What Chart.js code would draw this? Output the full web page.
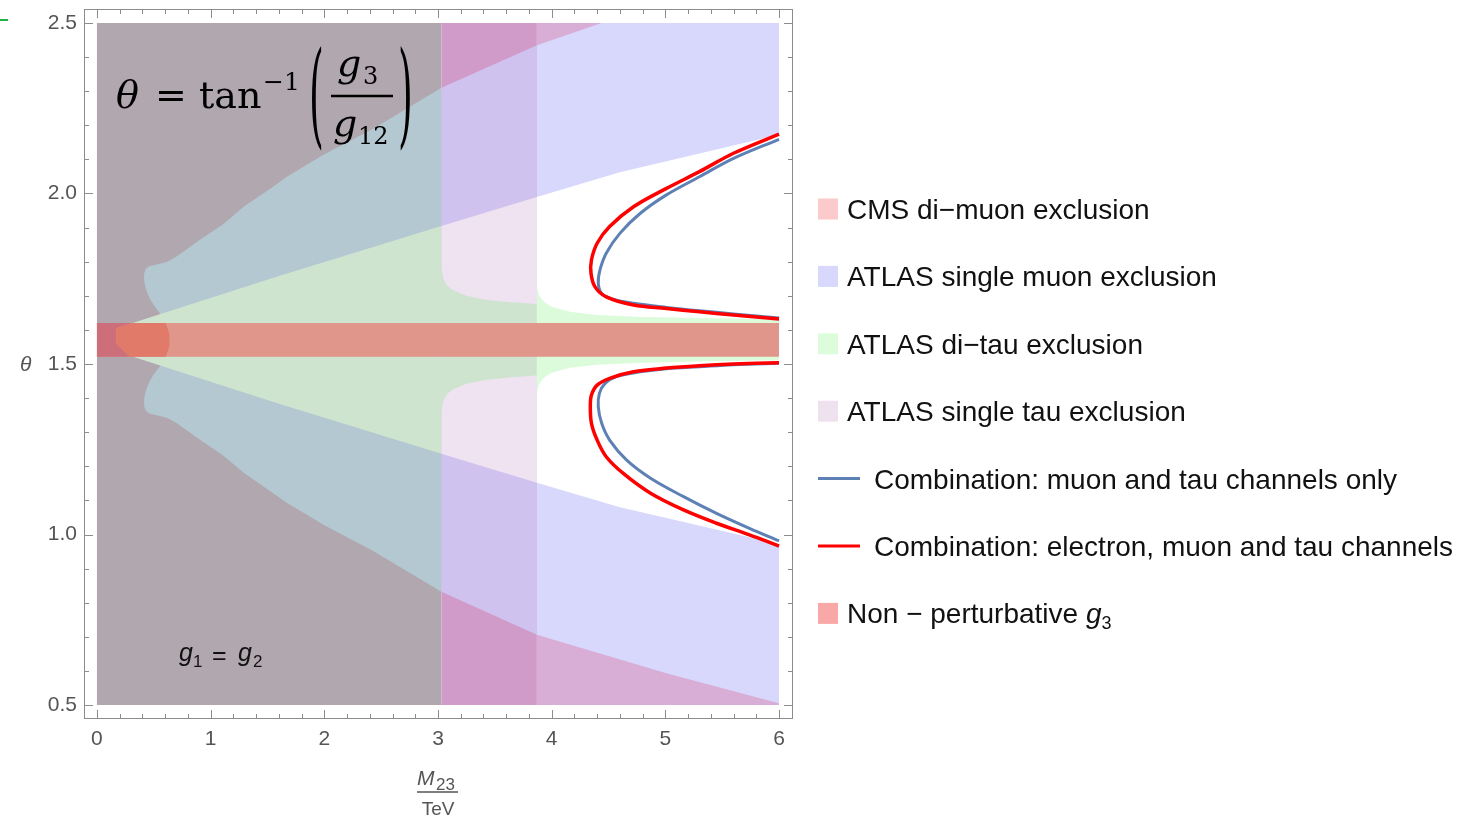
<!DOCTYPE html>
<html>
<head>
<meta charset="utf-8">
<script src="https://cdn.jsdelivr.net/npm/chart.js"></script>
<style>
  body { margin: 0; background: #fff; }
  #wrap { position: relative; width: 1463px; height: 820px; }
  #chart, #over { position: absolute; left: 0; top: 0; }
  #over { pointer-events: none; }
</style>
</head>
<body>
<div id="wrap">
  <canvas id="chart" width="1463" height="820"></canvas>
  <svg id="over" width="1463" height="820" xmlns="http://www.w3.org/2000/svg">
    <line x1="0" y1="20" x2="8" y2="20" stroke="#1fb24a" stroke-width="2"/>
    <!-- formula -->
    <g font-family="DejaVu Serif" fill="#000">
      <text x="116" y="108" font-size="38" font-style="italic">θ</text>
      <text x="155" y="108" font-size="38">=</text>
      <text x="199" y="108" font-size="38">tan</text>
      <text x="263" y="90" font-size="25">−1</text>
      <text x="309" y="44.4" font-size="38" transform="scale(1 3)">(</text>
      <text x="337" y="76" font-size="38" font-style="italic">g</text>
      <text x="363" y="84" font-size="24">3</text>
      <line x1="331" y1="96" x2="393" y2="96" stroke="#000" stroke-width="2.4"/>
      <text x="333" y="136" font-size="38" font-style="italic">g</text>
      <text x="358" y="144" font-size="24">12</text>
      <text x="398" y="44.4" font-size="38" transform="scale(1 3)">)</text>
    </g>
    <!-- g1 = g2 -->
    <g font-family="Liberation Sans, Arial, sans-serif" fill="#111">
      <text x="179" y="661" font-size="25" font-style="italic">g</text>
      <text x="193" y="667" font-size="17">1</text>
      <text x="212" y="664" font-size="25">=</text>
      <text x="238" y="661" font-size="25" font-style="italic">g</text>
      <text x="253" y="667" font-size="17">2</text>
    </g>
    <!-- axis titles -->
    <g font-family="Liberation Sans, Arial, sans-serif" fill="#555">
      <text x="20" y="371" font-size="21" font-style="italic">θ</text>
      <text x="417" y="785" font-size="21" font-style="italic">M</text>
      <text x="436" y="790" font-size="17">23</text>
      <line x1="417" y1="792" x2="458" y2="792" stroke="#555" stroke-width="1.3"/>
      <text x="438" y="815" font-size="19" text-anchor="middle">TeV</text>
    </g>
    <g id="legend" font-family="Liberation Sans, Arial, sans-serif" font-size="28" fill="#111"></g>
  </svg>
</div>
<script>
// axis ticks
const xTicks = [0, 1, 2, 3, 4, 5, 6]
const yTicks = [0.5, 1.0, 1.5, 2.0, 2.5]

// M23 edges of the CMS di-muon and single tau limits, theta range, non-perturbative band
const xZones = [0, 3.03, 3.87, 6]
const thetaRange = [0.5, 2.5]
const nonPertBand = [1.521, 1.62]

// ATLAS single muon band: outer edges (start at the low-mass lobe)
const muonUpper = [[0.64, 1.571], [0.635, 1.59], [0.62, 1.607], [0.59, 1.627], [0.55, 1.65], [0.50, 1.672],
  [0.46, 1.695], [0.43, 1.72], [0.415, 1.745], [0.415, 1.765], [0.43, 1.779], [0.46, 1.787], [0.525, 1.792],
  [0.62, 1.80], [0.70, 1.815], [0.906, 1.864], [1.11, 1.91], [1.29, 1.961], [1.55, 2.02], [1.67, 2.049],
  [2.0, 2.115], [2.43, 2.19], [3.03, 2.31], [3.87, 2.435], [4.44, 2.5]]
const muonLower = [[0.64, 1.571], [0.635, 1.552], [0.62, 1.535], [0.59, 1.515], [0.55, 1.492], [0.50, 1.47],
  [0.46, 1.447], [0.43, 1.422], [0.415, 1.397], [0.415, 1.377], [0.43, 1.363], [0.46, 1.355], [0.525, 1.35],
  [0.62, 1.342], [0.70, 1.327], [0.906, 1.278], [1.11, 1.232], [1.29, 1.181], [1.55, 1.121], [1.67, 1.093],
  [2.0, 1.027], [2.43, 0.952], [3.03, 0.832], [3.87, 0.706], [5.01, 0.593], [6.0, 0.505]]

// inner wedge (di-tau side of the muon band)
const wedgeUpper = [[0.17, 1.605], [1.58, 1.756], [3.03, 1.905], [3.87, 1.99], [4.6, 2.062], [6.0, 2.172]]
const wedgeLower = [[0.17, 1.56], [0.29, 1.524], [1.58, 1.386], [3.03, 1.237], [3.87, 1.152], [4.6, 1.08], [6.0, 0.972]]

// single tau edge (3.03 - 3.87) and di-tau edge beyond 3.87
const tauUpper = [[3.03, 1.80], [3.035, 1.772], [3.05, 1.748], [3.08, 1.730], [3.13, 1.717], [3.25, 1.70],
  [3.43, 1.688], [3.65, 1.681], [3.87, 1.676]]
const tauLower = [[3.03, 1.341], [3.035, 1.37], [3.05, 1.394], [3.08, 1.412], [3.13, 1.425], [3.25, 1.442],
  [3.43, 1.454], [3.65, 1.461], [3.87, 1.466]]
const ditauUpper = [[3.87, 1.73], [3.88, 1.71], [3.90, 1.695], [3.94, 1.68], [4.0, 1.668], [4.16, 1.653],
  [4.4, 1.644], [4.8, 1.638], [5.4, 1.634], [6.0, 1.631]]
const ditauLower = [[3.87, 1.412], [3.88, 1.432], [3.90, 1.447], [3.94, 1.462], [4.0, 1.474], [4.16, 1.489],
  [4.4, 1.498], [4.8, 1.504], [5.4, 1.508], [6.0, 1.511]]

// low-mass end of the non-perturbative band
const bandDark = [[0, 1.62], [0.31, 1.62], [0.17, 1.605], [0.17, 1.56], [0.29, 1.521], [0, 1.521]]
const bandOrange = [[0.17, 1.605], [0.31, 1.62], [0.605, 1.62], [0.635, 1.59], [0.64, 1.571], [0.635, 1.552],
  [0.605, 1.521], [0.29, 1.521], [0.17, 1.56]]

// combination limits
const redUpper = [[6.0, 2.174], [5.6, 2.118], [5.3, 2.064], [5.01, 2.015], [4.72, 1.961], [4.51, 1.903],
  [4.40, 1.854], [4.35, 1.805], [4.346, 1.766], [4.38, 1.727], [4.48, 1.697], [4.72, 1.673], [5.01, 1.663],
  [5.3, 1.653], [5.6, 1.644], [6.0, 1.632]]
const redLower = [[6.0, 1.504], [5.6, 1.500], [5.3, 1.495], [5.01, 1.488], [4.72, 1.477], [4.51, 1.458],
  [4.40, 1.438], [4.35, 1.409], [4.34, 1.375], [4.35, 1.326], [4.40, 1.277], [4.48, 1.228], [4.63, 1.179],
  [4.87, 1.121], [5.16, 1.072], [5.45, 1.033], [5.74, 0.999], [6.0, 0.966]]
const blueUpper = [[6.0, 2.159], [5.6, 2.103], [5.3, 2.049], [5.01, 1.996], [4.78, 1.942], [4.6, 1.883],
  [4.48, 1.825], [4.425, 1.776], [4.41, 1.737], [4.44, 1.707], [4.54, 1.690], [4.72, 1.678], [5.01, 1.666],
  [5.3, 1.656], [5.6, 1.647], [6.0, 1.635]]
const blueLower = [[6.0, 1.502], [5.6, 1.498], [5.3, 1.492], [5.01, 1.486], [4.78, 1.477], [4.57, 1.463],
  [4.47, 1.443], [4.42, 1.414], [4.41, 1.375], [4.44, 1.326], [4.51, 1.277], [4.66, 1.218], [4.87, 1.165],
  [5.16, 1.111], [5.45, 1.062], [5.74, 1.018], [6.0, 0.981]]

// legend
const legendLabels = ["CMS di−muon exclusion", "ATLAS single muon exclusion", "ATLAS di−tau exclusion",
  "ATLAS single tau exclusion", "Combination: muon and tau channels only",
  "Combination: electron, muon and tau channels", "Non − perturbative "]
const legendKinds = ["box", "box", "box", "box", "line", "line", "box"]
const legendColors = ["#fccaca", "#d8d8fc", "#dcfcdc", "#efe2ef", "#5e81b5", "#ff0000", "#f9a8a8"]

const [z0, z1, z2, z3] = xZones
const [tMin, tMax] = thetaRange

const inZone = (pts, a, b) => pts.filter(([x]) => x >= a - 1e-9 && x <= b + 1e-9)
const strip = (upper, lower, a, b, extra = []) => [...inZone(upper, a, b), ...extra, ...inZone(lower, a, b).reverse()]
const rect = (a, b, lo, hi) => [[a, lo], [b, lo], [b, hi], [a, hi]]

// bottom to top
const layers = [
  { pts: rect(z0, z1, tMin, tMax), color: "#b1a7ae" },
  { pts: rect(z1, z2, tMin, tMax), color: "#d09ac9" },
  { pts: rect(z2, z3, tMin, tMax), color: "#d9aed6" },
  { pts: strip(muonUpper, muonLower, z0, z1), color: "#b3c8d1" },
  { pts: strip(muonUpper, muonLower, z1, z2), color: "#cfc2ee" },
  { pts: strip(muonUpper, muonLower, z2, z3, [[z3, tMax]]), color: "#d8d8fc" },
  { pts: strip(wedgeUpper, wedgeLower, z0, z1), color: "#cfe4cf" },
  { pts: strip(wedgeUpper, wedgeLower, z1, z2), color: "#efe3f1" },
  { pts: strip(wedgeUpper, wedgeLower, z2, z3), color: "#ffffff" },
  { pts: strip(tauUpper, tauLower, z1, z2), color: "#cfe4cf" },
  { pts: strip(ditauUpper, ditauLower, z2, z3), color: "#dbfbdb" },
  { pts: rect(z0, z3, nonPertBand[0], nonPertBand[1]), color: "#e0968a" },
  { pts: bandDark, color: "#cd6e7b" },
  { pts: bandOrange, color: "#e17a69" },
]

const toXY = (pts) => pts.map(([x, y]) => ({ x, y }))

const fills = layers.map((l) => ({
  data: toXY(l.pts),
  fill: "shape",
  backgroundColor: l.color,
  borderColor: "rgba(0,0,0,0)",
  borderWidth: 0,
  pointRadius: 0,
  tension: 0,
}))

const curve = (pts, color, width) => ({
  data: toXY(pts),
  fill: false,
  borderColor: color,
  borderWidth: width,
  pointRadius: 0,
  tension: 0.35,
})

const curves = [
  curve(blueUpper, "#5e81b5", 3),
  curve(blueLower, "#5e81b5", 3),
  curve(redUpper, "#ff0000", 3.5),
  curve(redLower, "#ff0000", 3.5),
]

// first dataset is drawn on top, so list top layer first
const datasets = [...fills, ...curves].reverse()

// frame with inward ticks on all four sides
const frameTicks = {
  id: "frameTicks",
  afterDraw(chart) {
    const { ctx, chartArea: a, scales } = chart
    const x = scales.x, y = scales.y
    const minors = (t) => {
      const out = []
      for (let i = 0; i < t.length - 1; i++) {
        const d = (t[i + 1] - t[i]) / 5
        for (let k = 1; k < 5; k++) out.push(t[i] + k * d)
      }
      return out
    }
    ctx.save()
    ctx.strokeStyle = "#8c8c8c"
    ctx.lineWidth = 1
    ctx.strokeRect(a.left + 0.5, a.top + 0.5, a.right - a.left - 1, a.bottom - a.top - 1)
    ctx.beginPath()
    const tickX = (v, len) => {
      const px = Math.round(x.getPixelForValue(v)) + 0.5
      ctx.moveTo(px, a.bottom); ctx.lineTo(px, a.bottom - len)
      ctx.moveTo(px, a.top); ctx.lineTo(px, a.top + len)
    }
    const tickY = (v, len) => {
      const py = Math.round(y.getPixelForValue(v)) + 0.5
      ctx.moveTo(a.left, py); ctx.lineTo(a.left + len, py)
      ctx.moveTo(a.right, py); ctx.lineTo(a.right - len, py)
    }
    xTicks.forEach((v) => tickX(v, 9))
    minors(xTicks).forEach((v) => tickX(v, 5))
    yTicks.forEach((v) => tickY(v, 9))
    minors(yTicks).forEach((v) => tickY(v, 5))
    ctx.stroke()
    ctx.restore()
  },
}

const tickFont = { family: "Liberation Sans, Arial, sans-serif", size: 21 }

new Chart(document.getElementById("chart"), {
  type: "line",
  data: { datasets },
  plugins: [frameTicks],
  options: {
    responsive: false,
    animation: false,
    devicePixelRatio: 1,
    layout: { padding: { top: 9, right: 670, left: 0, bottom: 0 } },
    plugins: { legend: { display: false }, tooltip: { enabled: false } },
    scales: {
      x: {
        type: "linear",
        min: -0.114,
        max: 6.123,
        grid: { display: false, drawTicks: false },
        border: { display: false },
        afterBuildTicks: (s) => { s.ticks = xTicks.map((v) => ({ value: v })) },
        afterFit: (s) => { s.height = 101; s.paddingLeft = 0; s.paddingRight = 0 },
        ticks: { padding: 8, color: "#555", font: tickFont, maxRotation: 0, callback: (v) => String(v) },
      },
      y: {
        type: "linear",
        min: 0.459,
        max: 2.541,
        grid: { display: false, drawTicks: false },
        border: { display: false },
        afterBuildTicks: (s) => { s.ticks = yTicks.map((v) => ({ value: v })) },
        afterFit: (s) => { s.width = 84; s.paddingTop = 0; s.paddingBottom = 0 },
        ticks: { padding: 7, color: "#555", font: tickFont, callback: (v) => v.toFixed(1) },
      },
    },
  },
})

// legend on the right
const legendG = document.getElementById("legend")
let svg = ""
legendLabels.forEach((label, i) => {
  const cy = 209 + i * 67.4
  const color = legendColors[i]
  let tx = 847
  if (legendKinds[i] === "box") {
    svg += `<rect x="818" y="${cy - 10.5}" width="20" height="21" fill="${color}"/>`
  } else {
    svg += `<line x1="818" y1="${cy}" x2="860" y2="${cy}" stroke="${color}" stroke-width="3"/>`
    tx = 874
  }
  let text = label
  if (i === legendLabels.length - 1) {
    text += `<tspan font-style="italic">g</tspan><tspan font-size="18" dy="6">3</tspan>`
  }
  svg += `<text x="${tx}" y="${cy + 10}">${text}</text>`
})
legendG.innerHTML = svg
</script>
</body>
</html>
